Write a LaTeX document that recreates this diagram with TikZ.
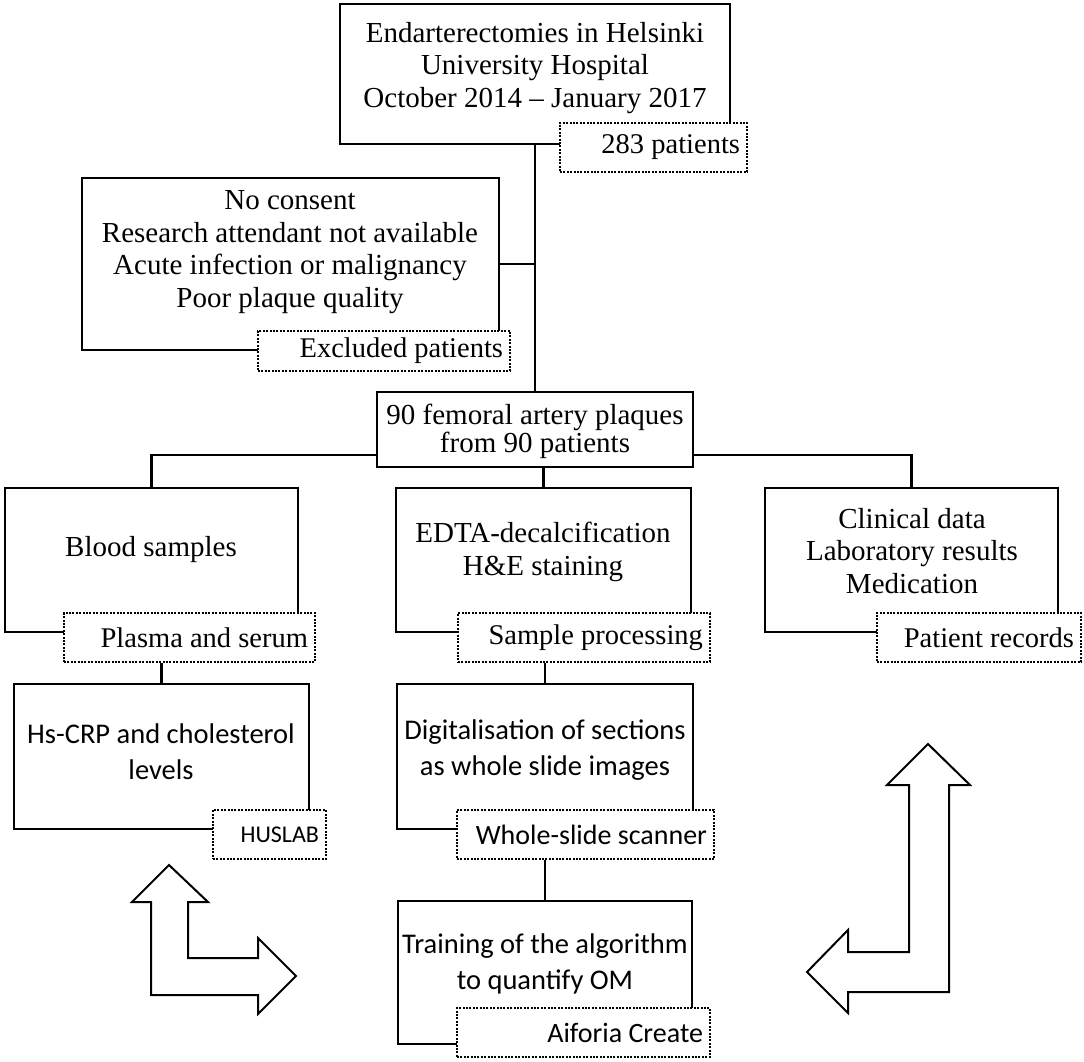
\documentclass[tikz,border=0pt]{standalone}
\usepackage{fontspec}
\setmainfont{Liberation Serif}
\newfontfamily\calib{Carlito}
\newcommand\bx[5]{\node[box, minimum width={#4-#2}, minimum height={#5-#3}] (#1) at ({(#2+#4)/2},{(#3+#5)/2}) {};}
\newcommand\lb[7][]{\node[lbl,#1, minimum width={#5-#3}, minimum height={#6-#4}, text width={#5-#3-14}] (#2) at ({(#3+#5)/2},{(#4+#6)/2}) {#7};}
\begin{document}
\begin{tikzpicture}[x=1pt,y=-1pt,
  box/.style={draw, line width=2.8pt, inner sep=0pt},
  lbl/.style={draw, fill=white, line width=2.4pt, dash pattern=on 2pt off 1.4pt, inner xsep=7pt, inner ysep=0pt, align=flush right, font=\fontsize{28.5}{30}\selectfont},
  sflbl/.style={font=\calib\fontsize{28}{30}\selectfont},
  conn/.style={line width=2.8pt},
  rm/.style={align=center, inner sep=0pt, font=\fontsize{29}{32.5}\selectfont},
  sf/.style={align=center, inner sep=0pt, font=\calib\fontsize{28.5}{36}\selectfont},
  bigarrow/.style={draw, line width=2pt, line join=miter}]
\useasboundingbox (0,0) rectangle (1084,1062);

% boxes
\bx{T}{340}{4}{730}{144}
\bx{E}{82}{178}{499}{350}
\bx{N}{377}{392}{693}{467}
\bx{B}{5}{488}{298}{632}
\bx{D}{396}{488}{691}{632}
\bx{C}{765}{488}{1058}{632}
\bx{H}{14}{684}{309}{829}
\bx{G}{397}{684}{693}{829}
\bx{A}{398}{901}{692}{1044}

% labels
\lb{Lt}{560}{123}{747}{172}{283 patients}
\lb{Le}{258}{331}{510}{371}{Excluded patients}
\lb{Lb}{64}{613}{315}{662}{Plasma and serum}
\lb{Ld}{458}{613}{710}{662}{Sample processing}
\lb{Lc}{877}{613}{1081}{662}{Patient records}
\lb[sflbl, font=\calib\fontsize{24}{26}\selectfont]{Lh}{213}{810}{326}{859}{HUSLAB}
\lb[sflbl]{Lg}{457}{810}{714}{859}{Whole-slide scanner}
\lb[sflbl]{La}{457}{1008}{710}{1057}{Aiforia Create}

% connectors
\coordinate (nl) at (377,455);
\coordinate (nr) at (693,455);
\draw[conn] (T.south) -- (N.north);
\draw[conn] (E.east) -- (E.east -| N.north);
\draw[conn] (nl) -| (B.north);
\draw[conn] (nr) -| (C.north);
\draw[conn] (D.north) -- (D.north |- N.south);
\draw[conn] (H.north) -- (H.north |- Lb.south);
\draw[conn] (G.north) -- (G.north |- Ld.south);
\draw[conn] (A.north) -- (A.north |- Lg.south);

% texts
\node[rm] (tT) at (535,68) {Endarterectomies in Helsinki\\University Hospital\\October 2014 -- January 2017};
\node[rm] (tE) at (290,252) {No consent\\Research attendant not available\\Acute infection or malignancy\\Poor plaque quality};
\node[rm, font=\fontsize{29}{28}\selectfont] (tN) at (535,431) {90 femoral artery plaques\\from 90 patients};
\node[rm] (tB) at (151,550) {Blood samples};
\node[rm] (tD) at (543,552) {EDTA-decalcification\\H\&E staining};
\node[rm] (tC) at (912,551) {Clinical data\\Laboratory results\\Medication};
\node[sf] (tH) at (161,752) {Hs-CRP and cholesterol\\levels};
\node[sf] (tG) at (545,750) {Digitalisation of sections\\as whole slide images};
\node[sf] (tA) at (545,964) {Training of the algorithm\\to quantify OM};

% big arrows
\draw[bigarrow] (169,865) -- (208,902) -- (188,902) -- (188,958) -- (258,958) -- (258,938) -- (296,976) -- (258,1014) -- (258,995) -- (151,995) -- (151,902) -- (132,902) -- cycle;
\draw[bigarrow] (928,744) -- (970,785) -- (949,785) -- (949,992) -- (848,992) -- (848,1013) -- (807,972) -- (848,930) -- (848,952) -- (909,952) -- (909,785) -- (887,785) -- cycle;
\end{tikzpicture}
\end{document}
